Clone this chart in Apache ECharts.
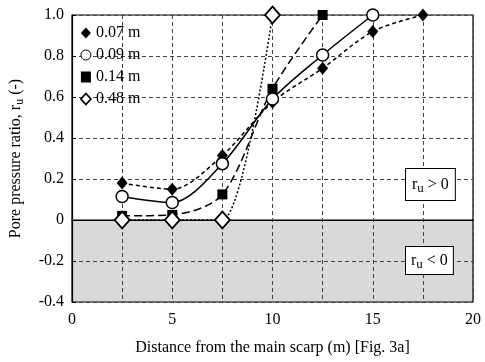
<!DOCTYPE html>
<html><head><meta charset="utf-8">
<script src="https://cdn.jsdelivr.net/npm/echarts@6/dist/echarts.min.js"></script>
<style>html,body{margin:0;padding:0;background:#fff}#c{width:485px;height:362px}</style>
</head><body><div id="c"></div>
<script>
const seriesNames = ['0.07 m', '0.09 m', '0.14 m', '0.48 m'];
const d007 = [[2.5,0.18],[5,0.15],[7.5,0.315],[10,0.575],[12.5,0.74],[15,0.92],[17.5,1.0]];
const d009 = [[2.5,0.115],[5,0.085],[7.5,0.275],[10,0.59],[12.5,0.805],[15,1.0]];
const d014 = [[2.5,0.02],[5,0.025],[7.5,0.125],[10,0.64],[12.5,1.0]];
const d048 = [[2.5,0],[5,0],[7.5,0],[10,1.0]];
const zeroBand = [[0,0],[20,0]];
const xTicks = [0,5,10,15,20];
const yTicks = [-0.4,-0.2,0,0.2,0.4,0.6,0.8,1.0];

const font = 'Liberation Serif';
const chart = echarts.init(document.getElementById('c'));
const gridLine = {show:true, lineStyle:{color:'#444', type:[4,3], width:1}};
chart.setOption({
  animation:false,
  textStyle:{fontFamily:font, color:'#000'},
  grid:{left:68, right:12, top:15, bottom:60, show:true, borderColor:'#000', borderWidth:1.2, z:3},
  xAxis:{type:'value', min:0, max:20, interval:2.5, z:3,
    axisLine:{show:true, lineStyle:{color:'#000', width:1.2}},
    axisTick:{show:false},
    splitLine:gridLine,
    axisLabel:{fontFamily:font, fontSize:16, color:'#000', margin:10,
      formatter:v => xTicks.includes(v) ? String(v) : ''},
    name:'Distance from the main scarp (m) [Fig. 3a]', nameLocation:'middle', nameGap:38,
    nameTextStyle:{fontFamily:font, fontSize:16, color:'#000'}
  },
  yAxis:{type:'value', min:-0.4, max:1.0, interval:0.2, z:3,
    axisLine:{show:true, lineStyle:{color:'#000', width:1.2}},
    axisTick:{show:true, inside:true, length:4, lineStyle:{color:'#000'}},
    splitLine:gridLine,
    axisLabel:{fontFamily:font, fontSize:16, color:'#000', margin:8,
      formatter:v => { const r = Math.round(v*10)/10; return r===0 ? '0' : r.toFixed(1); }},
    name:'Pore pressure ratio, r{sub|u} (-)', nameLocation:'middle', nameGap:46,
    nameTextStyle:{fontFamily:font, fontSize:16, color:'#000',
      rich:{sub:{fontFamily:font, fontSize:12, verticalAlign:'bottom', padding:[8,0,0,0]}}}
  },
  legend:{show:true, orient:'vertical', left:75, top:20, itemGap:6, itemWidth:10, itemHeight:11,
    textStyle:{fontFamily:font, fontSize:16, color:'#000'},
    data:[{name:seriesNames[0], icon:'diamond', itemStyle:{borderWidth:0}},
          {name:seriesNames[1], icon:'circle', itemStyle:{color:'#fff', borderColor:'#000', borderWidth:1}},
          {name:seriesNames[2], icon:'rect', itemStyle:{borderWidth:0}},
          {name:seriesNames[3], icon:'diamond', itemStyle:{color:'#fff', borderColor:'#000', borderWidth:1.8}}]},
  series:[
    {type:'line', data:zeroBand, symbol:'none', z:1, silent:true,
      lineStyle:{color:'#000', width:1.2}, areaStyle:{color:'#d9d9d9', origin:'start', opacity:1}},
    {name:seriesNames[0], type:'line', data:d007, smooth:0.3, z:5, clip:false,
      symbol:'diamond', symbolSize:[11,13],
      lineStyle:{color:'#000', width:1.5, type:[4,3]},
      itemStyle:{color:'#000', borderColor:'#000', borderWidth:0}},
    {name:seriesNames[1], type:'line', data:d009, smooth:0.3, z:6, clip:false,
      symbol:'circle', symbolSize:12,
      lineStyle:{color:'#000', width:1.5, type:'solid'},
      itemStyle:{color:'#fff', borderColor:'#000', borderWidth:1.5}},
    {name:seriesNames[2], type:'line', data:d014, smooth:0.3, z:5, clip:false,
      symbol:'rect', symbolSize:10,
      lineStyle:{color:'#000', width:1.5, type:[8,4]},
      itemStyle:{color:'#000', borderColor:'#000', borderWidth:0}},
    {name:seriesNames[3], type:'line', data:d048, smooth:0.25, z:7, clip:false,
      symbol:'diamond', symbolSize:[15,17],
      lineStyle:{color:'#000', width:1.5, type:[2,2]},
      itemStyle:{color:'#fff', borderColor:'#000', borderWidth:1.8}}
  ],
  graphic:[
    {type:'text', left:405, top:168, z:20, style:{
      text:'r{sub|u} > 0', fontFamily:font, fontSize:16, fill:'#000',
      backgroundColor:'#fff', borderColor:'#000', borderWidth:1, padding:[5,6,5,6],
      rich:{sub:{fontFamily:font, fontSize:13, verticalAlign:'bottom', padding:[8,0,0,0]}}}},
    {type:'text', left:405, top:246, z:20, style:{
      text:'r{sub|u} < 0', fontFamily:font, fontSize:16, fill:'#000',
      backgroundColor:'#fff', borderColor:'#000', borderWidth:1, padding:[3,5,3,5],
      rich:{sub:{fontFamily:font, fontSize:13, verticalAlign:'bottom', padding:[8,0,0,0]}}}}
  ]
});
</script></body></html>
